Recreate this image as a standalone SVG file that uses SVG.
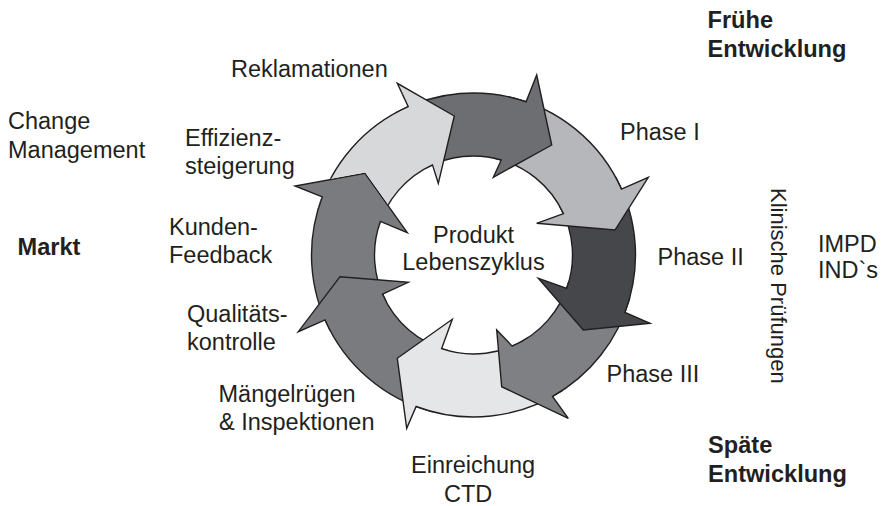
<svg xmlns="http://www.w3.org/2000/svg" xmlns:xlink="http://www.w3.org/1999/xlink" width="881" height="506" viewBox="0 0 881 506">
  <style>
    .arrow { stroke: #231f20; stroke-width: 1.4; stroke-linejoin: miter; }
    .lbl { font-family: "Liberation Sans", Arial, Helvetica, sans-serif; font-size: 23.5px; fill: #231f20; }
    .hd { font-weight: bold; font-size: 23.6px; }
    .mid { text-anchor: middle; }
  </style>
  <defs>
    <!-- ring segments, centre (473.5,255), outer r 162, inner r 99; each ends in a barbed head -->
    <path id="p1" d="M317.78,210.35 A162,162 0 0 1 408.23,106.73 L397.3,83.3 L454.3,116 L438.3,183.3 L432.48,164.9 A99,99 0 0 0 378.34,227.71 Z"/>
    <path id="p2" d="M396.2,112.63 A162,162 0 0 1 526.08,101.77 L536.7,75 L551.7,145 L493.3,177.3 L501.22,159.96 A99,99 0 0 0 426.26,168 Z"/>
    <path id="p3" d="M508.01,96.72 A162,162 0 0 1 621.5,189.11 L648.3,177.3 L615,230 L536.7,223.3 L563.45,213.64 A99,99 0 0 0 494.59,158.27 Z"/>
    <path id="p4" d="M615.6,177.2 A162,162 0 0 1 625.01,312.34 L650,323.3 L583.3,330 L538.3,278.3 L566.73,288.31 A99,99 0 0 0 560.34,207.46 Z"/>
    <path id="p5" d="M629.46,298.84 A162,162 0 0 1 552.51,396.43 L568.3,418.3 L501.7,386.7 L496.7,330 L512.18,346.13 A99,99 0 0 0 568.81,281.79 Z"/>
    <path id="p6" d="M562.23,390.54 A162,162 0 0 1 416.12,406.5 L406.7,428.3 L397.3,358.3 L452.3,319.3 L441.56,348.71 A99,99 0 0 0 527.72,337.83 Z"/>
    <path id="p7" d="M432.12,411.62 A162,162 0 0 1 325.1,319.96 L298.3,331.7 L340,276.7 L408.3,282.3 L382.59,294.19 A99,99 0 0 0 448.21,350.72 Z"/>
    <path id="p8" d="M329.94,330.05 A162,162 0 0 1 322.26,196.94 L295,186 L365,173.3 L407.3,232.7 L380.35,221.45 A99,99 0 0 0 385.77,300.87 Z"/>
    <!-- the first segment's tail tucks under the last segment's head -->
    <mask id="m1" maskUnits="userSpaceOnUse" x="0" y="0" width="881" height="506">
      <rect width="881" height="506" fill="#fff"/>
      <use href="#p8" fill="#000" stroke="#000" stroke-width="1.4"/>
    </mask>
  </defs>

  <!-- cycle segments, drawn back to front so each head overlaps the following tail -->
  <g id="cycle">
    <g id="seg-qualitaet"><use href="#p8" class="arrow" fill="#7a7b7e"/></g>
    <g id="seg-maengel"><use href="#p7" class="arrow" fill="#7a7b7e"/></g>
    <g id="seg-einreichung"><use href="#p6" class="arrow" fill="#e5e6e7"/></g>
    <g id="seg-phase3"><use href="#p5" class="arrow" fill="#7f8083"/></g>
    <g id="seg-phase2"><use href="#p4" class="arrow" fill="#46474a"/></g>
    <g id="seg-phase1"><use href="#p3" class="arrow" fill="#b6b7ba"/></g>
    <g id="seg-reklamation"><use href="#p2" class="arrow" fill="#6d6e71"/></g>
    <g id="seg-effizienz"><use href="#p1" class="arrow" fill="#d7d8da" mask="url(#m1)"/></g>
  </g>

  <g id="centre">
    <text class="lbl mid" x="473.5" y="243">Produkt</text>
    <text class="lbl mid" x="473.5" y="270">Lebenszyklus</text>
  </g>

  <g id="labels">
    <text class="lbl" x="231" y="77">Reklamationen</text>
    <text class="lbl" x="8" y="129">Change</text>
    <text class="lbl" x="8" y="158">Management</text>
    <text class="lbl" x="185" y="146">Effizienz-</text>
    <text class="lbl" x="185" y="174">steigerung</text>
    <text class="lbl" x="169" y="235">Kunden-</text>
    <text class="lbl" x="169" y="263">Feedback</text>
    <text class="lbl" x="187" y="322">Qualitäts-</text>
    <text class="lbl" x="187" y="350">kontrolle</text>
    <text class="lbl" x="218.5" y="402">Mängelrügen</text>
    <text class="lbl" x="219" y="430">&amp; Inspektionen</text>
    <text class="lbl" x="411" y="473">Einreichung</text>
    <text class="lbl" x="444" y="502">CTD</text>
    <text class="lbl" x="620" y="140">Phase I</text>
    <text class="lbl" x="657.5" y="265">Phase II</text>
    <text class="lbl" x="606.5" y="382">Phase III</text>
    <text class="lbl" x="818" y="252">IMPD</text>
    <text class="lbl" x="818" y="278">IND`s</text>
    <text class="lbl" transform="translate(771,188) rotate(90)" x="0" y="0" style="font-size:22px">Klinische Prüfungen</text>
  </g>

  <g id="stages">
    <text class="lbl hd" x="17.5" y="255">Markt</text>
    <text class="lbl hd" x="707.5" y="28">Frühe</text>
    <text class="lbl hd" x="707.5" y="57">Entwicklung</text>
    <text class="lbl hd" x="708" y="453">Späte</text>
    <text class="lbl hd" x="708" y="482">Entwicklung</text>
  </g>
</svg>
